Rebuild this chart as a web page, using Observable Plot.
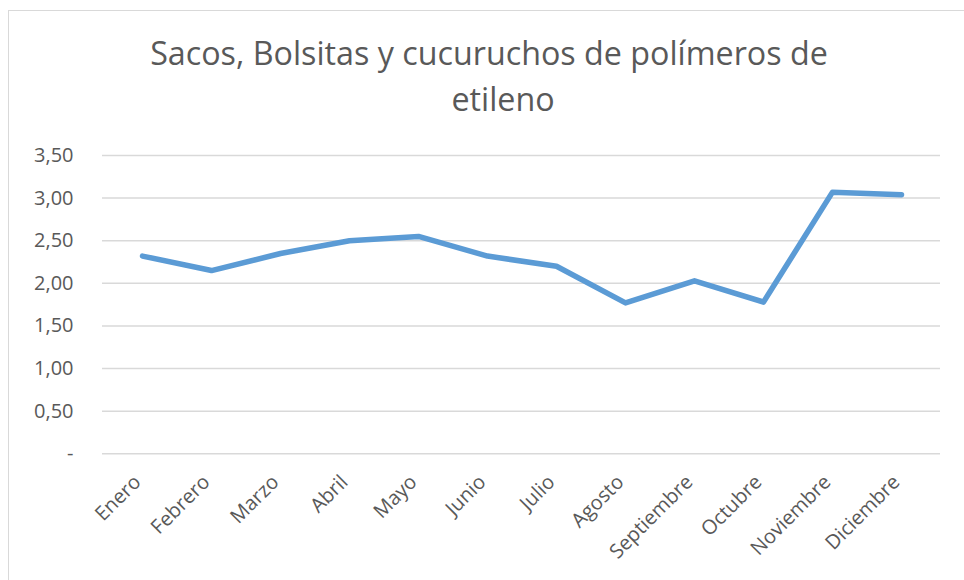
<!DOCTYPE html>
<html>
<head>
<meta charset="utf-8">
<script src="https://cdn.jsdelivr.net/npm/d3@7"></script>
<script src="https://cdn.jsdelivr.net/npm/@observablehq/plot@0.6"></script>
<style>
  body { margin: 0; background: #fff; width: 964px; height: 580px; overflow: hidden; position: relative; }
  #frame { position: absolute; left: 8px; top: 10px; width: 980px; height: 600px;
           border-left: 1.5px solid #d9d9d9; border-top: 1.5px solid #d9d9d9; box-sizing: border-box; }
  .tl { position: absolute; left: 0; width: 964px; text-align: center; color: #595959;
        font-family: "Liberation Sans Narrow", "Open Sans", sans-serif; white-space: nowrap; line-height: 1; }
  #chart { position: absolute; left: 0; top: 125px; }
</style>
</head>
<body>
<div id="frame"></div>
<div id="t1" class="tl"></div>
<div id="t2" class="tl"></div>
<div id="chart"></div>
<script>
const titulo1 = "Sacos, Bolsitas y cucuruchos de polímeros de";
const titulo2 = "etileno";
const meses = ["Enero","Febrero","Marzo","Abril","Mayo","Junio","Julio","Agosto","Septiembre","Octubre","Noviembre","Diciembre"];
const valores = [2.32, 2.15, 2.35, 2.50, 2.55, 2.32, 2.20, 1.77, 2.03, 1.78, 3.07, 3.04];
const yTicks = [0, 0.5, 1, 1.5, 2, 2.5, 3, 3.5];

const data = meses.map((m, i) => ({mes: m, valor: valores[i]}));

// title: size chosen so line 1 spans about 678px
const t1 = document.getElementById("t1"), t2 = document.getElementById("t2");
t1.textContent = titulo1; t2.textContent = titulo2;
const ctx = document.createElement("canvas").getContext("2d");
const fam = '"Liberation Sans Narrow", "Open Sans", sans-serif';
ctx.font = `100px ${fam}`;
let fs = 100 * 678 / ctx.measureText(titulo1).width;
fs = Math.min(fs, 34);
for (const t of [t1, t2]) t.style.fontSize = fs + "px";
t1.style.top = (66 - 0.9 * fs) + "px";
t2.style.top = (112 - 0.9 * fs) + "px";
t1.style.left = (489 - 482) + "px";
t2.style.left = (503 - 482) + "px";

const fmt = d => d === 0 ? "-" : d.toFixed(2).replace(".", ",");

const chart = Plot.plot({
  width: 964,
  height: 455,
  marginTop: 30,
  marginBottom: 126.7,
  marginLeft: 102,
  marginRight: 24,
  style: {fontFamily: "'Open Sans', sans-serif", fontSize: "20px", color: "#595959", background: "transparent"},
  x: {type: "point", domain: meses, padding: 0.5, label: null},
  y: {domain: [0, 3.5], label: null},
  marks: [
    Plot.ruleY(yTicks, {stroke: "#d9d9d9", strokeWidth: 1.5}),
    Plot.axisY(yTicks, {tickSize: 0, tickPadding: 29, tickFormat: fmt, label: null, fontSize: 20}),
    Plot.axisX({tickSize: 0, tickPadding: 12, tickRotate: -45, label: null, fontSize: 20, dx: -5, dy: 13}),
    Plot.line(data, {x: "mes", y: "valor", stroke: "#5B9BD5", strokeWidth: 5.5,
                     strokeLinejoin: "round", strokeLinecap: "round"})
  ]
});
document.getElementById("chart").appendChild(chart);
</script>
</body>
</html>
